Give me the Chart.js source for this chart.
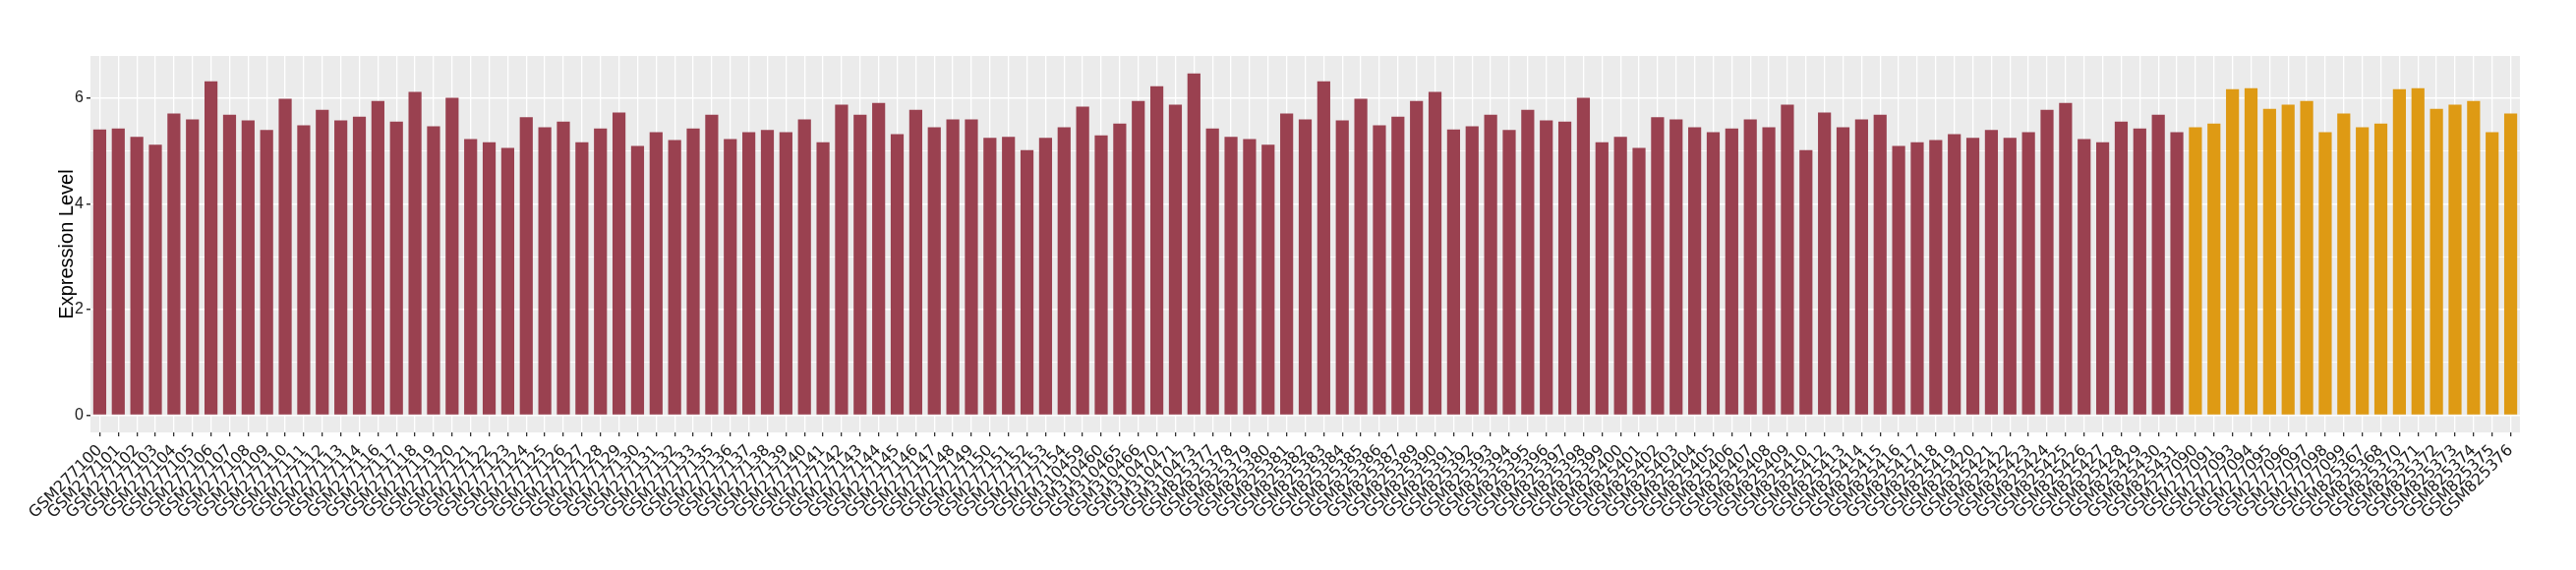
<!DOCTYPE html>
<html>
<head>
<meta charset="utf-8">
<script src="https://cdn.jsdelivr.net/npm/chart.js@4.4.1/dist/chart.umd.min.js"></script>
<style>
  html, body { margin: 0; padding: 0; background: #ffffff; }
  #wrap { width: 2620px; height: 580px; }
</style>
</head>
<body>
<div id="wrap"><canvas id="exprChart" width="2620" height="580"></canvas></div>
<script>
// samples of the first group (dark red)
const samplesA = [
    'GSM277100', 'GSM277101', 'GSM277102', 'GSM277103', 'GSM277104', 'GSM277105', 'GSM277106', 'GSM277107',
    'GSM277108', 'GSM277109', 'GSM277110', 'GSM277111', 'GSM277112', 'GSM277113', 'GSM277114', 'GSM277116',
    'GSM277117', 'GSM277118', 'GSM277119', 'GSM277120', 'GSM277121', 'GSM277122', 'GSM277123', 'GSM277124',
    'GSM277125', 'GSM277126', 'GSM277127', 'GSM277128', 'GSM277129', 'GSM277130', 'GSM277131', 'GSM277132',
    'GSM277133', 'GSM277135', 'GSM277136', 'GSM277137', 'GSM277138', 'GSM277139', 'GSM277140', 'GSM277141',
    'GSM277142', 'GSM277143', 'GSM277144', 'GSM277145', 'GSM277146', 'GSM277147', 'GSM277148', 'GSM277149',
    'GSM277150', 'GSM277151', 'GSM277152', 'GSM277153', 'GSM277154',
    'GSM310459', 'GSM310460', 'GSM310465', 'GSM310466', 'GSM310470', 'GSM310471', 'GSM310473',
    'GSM825377', 'GSM825378', 'GSM825379', 'GSM825380', 'GSM825381', 'GSM825382', 'GSM825383', 'GSM825384',
    'GSM825385', 'GSM825386', 'GSM825387', 'GSM825389', 'GSM825390', 'GSM825391', 'GSM825392', 'GSM825393',
    'GSM825394', 'GSM825395', 'GSM825396', 'GSM825397', 'GSM825398', 'GSM825399', 'GSM825400', 'GSM825401',
    'GSM825402', 'GSM825403', 'GSM825404', 'GSM825405', 'GSM825406', 'GSM825407', 'GSM825408', 'GSM825409',
    'GSM825410', 'GSM825412', 'GSM825413', 'GSM825414', 'GSM825415', 'GSM825416', 'GSM825417', 'GSM825418',
    'GSM825419', 'GSM825420', 'GSM825421', 'GSM825422', 'GSM825423', 'GSM825424', 'GSM825425', 'GSM825426',
    'GSM825427', 'GSM825428', 'GSM825429', 'GSM825430', 'GSM825431'
];
const valuesA = [
    5.41, 5.43, 5.27, 5.12, 5.71, 5.60, 6.32, 5.69, 5.58, 5.40, 5.99, 5.49, 5.78, 5.58, 5.65, 5.95,
    5.56, 6.12, 5.47, 6.01, 5.23, 5.17, 5.06, 5.64, 5.45, 5.56, 5.17, 5.43, 5.73, 5.10, 5.36, 5.21,
    5.43, 5.69, 5.23, 5.36, 5.40, 5.36, 5.60, 5.17, 5.88, 5.69, 5.91, 5.32, 5.78, 5.45, 5.60, 5.60,
    5.25, 5.27, 5.02, 5.25, 5.45,
    5.84, 5.30, 5.52, 5.95, 6.23, 5.88, 6.47,
    5.43, 5.27, 5.23, 5.12, 5.71, 5.60, 6.32, 5.58, 5.99, 5.49, 5.65, 5.95, 6.12, 5.41, 5.47, 5.69,
    5.40, 5.78, 5.58, 5.56, 6.01, 5.17, 5.27, 5.06, 5.64, 5.60, 5.45, 5.36, 5.43, 5.60, 5.45, 5.88,
    5.02, 5.73, 5.45, 5.60, 5.69, 5.10, 5.17, 5.21, 5.32, 5.25, 5.40, 5.25, 5.36, 5.78, 5.91, 5.23,
    5.17, 5.56, 5.43, 5.69, 5.36
];

// samples of the second group (orange)
const samplesB = [
    'GSM277090', 'GSM277091', 'GSM277093', 'GSM277094', 'GSM277095', 'GSM277096', 'GSM277097', 'GSM277098',
    'GSM277099', 'GSM825367', 'GSM825368', 'GSM825370', 'GSM825371', 'GSM825372', 'GSM825373', 'GSM825374',
    'GSM825375', 'GSM825376'
];
const valuesB = [
    5.45, 5.52, 6.17, 6.19, 5.80, 5.88, 5.95, 5.36, 5.71,
    5.45, 5.52, 6.17, 6.19, 5.80, 5.88, 5.95, 5.36, 5.71
];

const yTicks = [0, 1, 2, 3, 4, 5, 6];
const yMajor = [0, 2, 4, 6];

const colorA = '#9a4150';
const colorB = '#de9a14';

const labels = samplesA.concat(samplesB);
const values = valuesA.concat(valuesB);
const barColors = samplesA.map(() => colorA).concat(samplesB.map(() => colorB));

// grey ggplot-like panel behind the grid
const panelBg = {
    id: 'panelBg',
    beforeDraw(chart) {
        const { ctx, chartArea } = chart;
        ctx.save();
        ctx.fillStyle = '#ebebeb';
        ctx.fillRect(chartArea.left, chartArea.top, chartArea.right - chartArea.left, chartArea.bottom - chartArea.top);
        ctx.restore();
    }
};

function initChart() {
    const ctx = document.getElementById('exprChart').getContext('2d');
    return new Chart(ctx, {
        type: 'bar',
        data: {
            labels: labels,
            datasets: [{
                data: values,
                backgroundColor: barColors,
                borderWidth: 0,
                barPercentage: 0.7,
                categoryPercentage: 1.0
            }]
        },
        options: {
            responsive: false,
            animation: false,
            devicePixelRatio: 1,
            layout: { padding: { left: 52, top: 57, right: 57, bottom: 0 } },
            plugins: {
                legend: { display: false },
                tooltip: { enabled: false }
            },
            scales: {
                x: {
                    offset: true,
                    afterFit: (scale) => { scale.height = 140; },
                    grid: {
                        offset: false,
                        color: '#ffffff',
                        lineWidth: 1.3,
                        tickLength: 4,
                        tickColor: '#333333'
                    },
                    border: { display: false },
                    ticks: {
                        autoSkip: false,
                        maxRotation: 45,
                        minRotation: 45,
                        padding: 5,
                        color: '#1a1a1a',
                        font: { family: 'DejaVu Sans', size: 16 }
                    }
                },
                y: {
                    min: -0.324,
                    max: 6.8,
                    afterFit: (scale) => { scale.width = 40; },
                    afterBuildTicks: (scale) => { scale.ticks = yTicks.map(v => ({ value: v })); },
                    grid: {
                        color: '#ffffff',
                        lineWidth: (c) => (yMajor.includes(c.tick.value) ? 1.5 : 0.8),
                        tickLength: 4,
                        tickColor: (c) => (yMajor.includes(c.tick.value) ? '#333333' : 'rgba(0,0,0,0)')
                    },
                    border: { display: false },
                    ticks: {
                        padding: 3,
                        color: '#1a1a1a',
                        font: { family: 'Liberation Sans', size: 16 },
                        callback: (v) => (yMajor.includes(v) ? String(v) : '')
                    },
                    title: {
                        display: true,
                        text: 'Expression Level',
                        color: '#000000',
                        padding: { top: 4, bottom: 4 },
                        font: { family: 'Liberation Sans', size: 20 }
                    }
                }
            }
        },
        plugins: [panelBg]
    });
}

window.onload = () => {
    initChart();
};
</script>
</body>
</html>
